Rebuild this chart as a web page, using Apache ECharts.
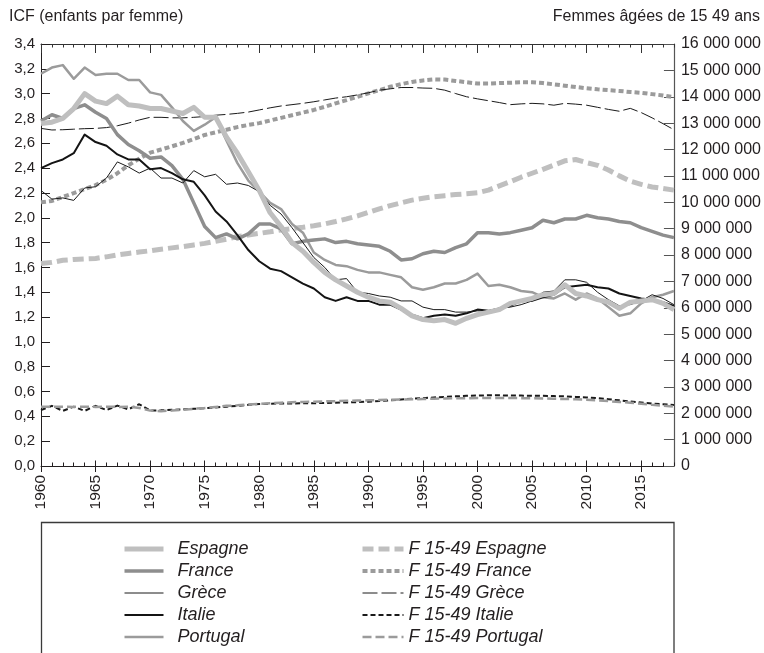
<!DOCTYPE html>
<html>
<head>
<meta charset="utf-8">
<script src="https://cdn.jsdelivr.net/npm/echarts@6/dist/echarts.min.js"></script>
<style>
  html, body { margin: 0; padding: 0; background: #fff; }
  #chart { width: 764px; height: 653px; }
</style>
</head>
<body>
<div id="chart"></div>
<script>
// Années 1960-2018
const years = [1960,1961,1962,1963,1964,1965,1966,1967,1968,1969,
  1970,1971,1972,1973,1974,1975,1976,1977,1978,1979,
  1980,1981,1982,1983,1984,1985,1986,1987,1988,1989,
  1990,1991,1992,1993,1994,1995,1996,1997,1998,1999,
  2000,2001,2002,2003,2004,2005,2006,2007,2008,2009,
  2010,2011,2012,2013,2014,2015,2016,2017,2018];

const yearTicks = [1960,1965,1970,1975,1980,1985,1990,1995,2000,2005,2010,2015];

// Indice conjoncturel de fécondité (enfants par femme)
const icfEspagne = [2.76,2.77,2.80,2.88,3.00,2.94,2.92,2.98,2.91,2.90,
  2.88,2.88,2.86,2.84,2.89,2.81,2.81,2.65,2.52,2.37,
  2.22,2.04,1.93,1.80,1.73,1.64,1.56,1.50,1.45,1.40,
  1.36,1.33,1.32,1.27,1.21,1.18,1.17,1.18,1.15,1.19,
  1.22,1.24,1.26,1.31,1.33,1.35,1.38,1.39,1.46,1.39,
  1.37,1.34,1.32,1.27,1.32,1.33,1.34,1.31,1.26];
const icfFrance = [2.78,2.83,2.80,2.88,2.91,2.85,2.80,2.67,2.59,2.54,
  2.48,2.49,2.42,2.31,2.12,1.93,1.84,1.87,1.83,1.87,
  1.95,1.95,1.91,1.79,1.81,1.82,1.83,1.80,1.81,1.79,
  1.78,1.77,1.73,1.66,1.67,1.71,1.73,1.72,1.76,1.79,
  1.88,1.88,1.87,1.88,1.90,1.92,1.98,1.96,1.99,1.99,
  2.02,2.00,1.99,1.97,1.96,1.92,1.89,1.86,1.84];
const icfGrece = [2.22,2.15,2.16,2.14,2.24,2.25,2.32,2.45,2.41,2.36,
  2.40,2.32,2.32,2.28,2.38,2.33,2.35,2.27,2.28,2.26,
  2.21,2.10,2.03,1.92,1.80,1.68,1.60,1.50,1.51,1.40,
  1.39,1.37,1.36,1.33,1.33,1.28,1.26,1.26,1.24,1.24,
  1.25,1.25,1.27,1.28,1.30,1.33,1.40,1.41,1.50,1.50,
  1.48,1.40,1.34,1.29,1.30,1.33,1.38,1.35,1.30];
const icfItalie = [2.40,2.44,2.47,2.52,2.67,2.61,2.58,2.51,2.47,2.47,
  2.39,2.40,2.36,2.31,2.29,2.18,2.05,1.97,1.86,1.74,
  1.65,1.59,1.57,1.52,1.47,1.43,1.36,1.33,1.36,1.33,
  1.33,1.30,1.30,1.26,1.22,1.19,1.21,1.22,1.21,1.23,
  1.26,1.25,1.27,1.29,1.33,1.33,1.36,1.38,1.44,1.45,
  1.46,1.44,1.43,1.39,1.37,1.35,1.34,1.32,1.29];
const icfPortugal = [3.16,3.21,3.23,3.12,3.21,3.15,3.16,3.16,3.11,3.11,
  3.01,2.99,2.89,2.78,2.70,2.75,2.81,2.62,2.44,2.30,
  2.21,2.12,2.07,1.95,1.88,1.72,1.66,1.62,1.61,1.58,
  1.56,1.56,1.54,1.52,1.44,1.42,1.44,1.47,1.47,1.50,
  1.55,1.45,1.46,1.44,1.41,1.40,1.36,1.35,1.39,1.34,
  1.39,1.35,1.28,1.21,1.23,1.31,1.36,1.38,1.41];

// Femmes âgées de 15 à 49 ans (millions)
const femEspagne = [7.68,7.72,7.80,7.83,7.85,7.87,7.93,8.00,8.06,8.11,
  8.16,8.22,8.27,8.32,8.38,8.44,8.52,8.60,8.70,8.76,
  8.82,8.88,8.95,9.00,9.05,9.11,9.18,9.27,9.37,9.48,
  9.62,9.75,9.87,9.98,10.08,10.15,10.21,10.25,10.29,10.32,
  10.36,10.46,10.62,10.78,10.95,11.10,11.25,11.41,11.57,11.62,
  11.50,11.40,11.22,11.00,10.80,10.68,10.58,10.52,10.46];
const femFrance = [10.00,10.05,10.20,10.35,10.50,10.65,10.85,11.10,11.40,11.65,
  11.88,12.00,12.12,12.25,12.40,12.55,12.65,12.75,12.85,12.93,
  13.00,13.10,13.20,13.30,13.40,13.50,13.62,13.75,13.87,14.00,
  14.13,14.25,14.38,14.48,14.56,14.62,14.66,14.65,14.60,14.55,
  14.50,14.50,14.52,14.53,14.55,14.55,14.52,14.47,14.42,14.37,
  14.32,14.28,14.25,14.22,14.18,14.15,14.10,14.05,13.98];
const femGrece = [12.80,12.74,12.75,12.77,12.79,12.80,12.83,12.90,13.00,13.12,
  13.22,13.22,13.20,13.20,13.22,13.25,13.30,13.33,13.37,13.42,
  13.50,13.58,13.65,13.70,13.75,13.81,13.88,13.95,14.00,14.07,
  14.15,14.25,14.30,14.35,14.35,14.33,14.32,14.25,14.12,14.00,
  13.92,13.85,13.78,13.70,13.73,13.75,13.73,13.68,13.75,13.72,
  13.68,13.60,13.52,13.45,13.56,13.40,13.20,12.98,12.75];
const femItalie = [2.12,2.28,2.09,2.25,2.09,2.28,2.12,2.29,2.15,2.34,
  2.10,2.11,2.13,2.15,2.17,2.19,2.22,2.25,2.28,2.32,
  2.35,2.36,2.37,2.37,2.38,2.38,2.39,2.40,2.41,2.42,
  2.44,2.46,2.49,2.52,2.55,2.57,2.60,2.62,2.64,2.66,
  2.67,2.68,2.68,2.67,2.67,2.66,2.66,2.65,2.64,2.62,
  2.60,2.57,2.53,2.49,2.45,2.41,2.37,2.34,2.31];
const femPortugal = [2.25,2.25,2.25,2.24,2.25,2.24,2.25,2.24,2.25,2.20,
  2.10,2.08,2.10,2.13,2.17,2.20,2.24,2.28,2.30,2.33,
  2.35,2.38,2.40,2.42,2.43,2.44,2.45,2.46,2.47,2.48,
  2.49,2.50,2.51,2.52,2.53,2.54,2.55,2.56,2.57,2.57,
  2.58,2.58,2.58,2.58,2.57,2.57,2.56,2.55,2.54,2.53,
  2.51,2.49,2.46,2.43,2.40,2.36,2.32,2.29,2.25];

const FONT = 'Liberation Sans, Arial, Helvetica, sans-serif';
const INK = '#231f20';

const pairs = arr => years.map((y, i) => [y, arr[i]]);
const millions = arr => years.map((y, i) => [y, Math.round(arr[i] * 1e6)]);

function lineSeries(name, data, yAxisIndex, color, width, type) {
  return {
    name, type: 'line', data, xAxisIndex: 0, yAxisIndex,
    symbol: 'none', showSymbol: false, silent: true, animation: false,
    lineStyle: { color, width, type: type || 'solid', cap: 'butt', join: 'round' },
    itemStyle: { color }
  };
}

const LIGHT = '#bfbfbf';
const MID = '#8e8e8e';
const MID2 = '#9b9b9b';

const series = [
  lineSeries('F 15-49 Espagne', millions(femEspagne), 1, LIGHT, 5, [11, 5]),
  lineSeries('F 15-49 France', millions(femFrance), 1, MID2, 4, [5, 3]),
  lineSeries('F 15-49 Grèce', millions(femGrece), 1, '#1a1a1a', 1, [15, 4]),
  lineSeries('F 15-49 Italie', millions(femItalie), 1, '#1a1a1a', 2, [5, 3]),
  lineSeries('F 15-49 Portugal', millions(femPortugal), 1, MID2, 2.5, [9, 4]),
  lineSeries('Portugal', pairs(icfPortugal), 0, MID2, 2.5),
  lineSeries('France', pairs(icfFrance), 0, MID, 3.5),
  lineSeries('Italie', pairs(icfItalie), 0, '#141414', 2),
  lineSeries('Grèce', pairs(icfGrece), 0, '#1a1a1a', 1),
  lineSeries('Espagne', pairs(icfEspagne), 0, LIGHT, 5)
];

const baseX = {
  type: 'value', min: 1960, max: 2018, gridIndex: 0,
  splitLine: { show: false }, axisLabel: { show: false },
  axisLine: { show: false }, axisTick: { show: false }
};

const legendText = {
  fontFamily: FONT, fontSize: 18, fontStyle: 'italic', color: INK, lineHeight: 18
};

const chart = echarts.init(document.getElementById('chart'), null, { renderer: 'canvas' });
chart.setOption({
  animation: false,
  backgroundColor: '#fff',
  textStyle: { fontFamily: FONT },
  title: [
    { text: 'ICF (enfants par femme)', left: 9, top: 9, padding: 0,
      textStyle: { fontFamily: FONT, fontSize: 16, fontWeight: 'normal', color: INK } },
    { text: 'Femmes âgées de 15 49 ans', right: 4, top: 9, padding: 0,
      textStyle: { fontFamily: FONT, fontSize: 16, fontWeight: 'normal', color: INK } }
  ],
  grid: { left: 41, right: 90, top: 44, bottom: 187, containLabel: false },
  xAxis: [
    // axe principal : ligne, graduations annuelles, libellés
    Object.assign({}, baseX, {
      position: 'bottom', interval: 1,
      axisLine: { show: true, lineStyle: { color: INK, width: 1 } },
      axisTick: { show: true, inside: true, length: 3.5, lineStyle: { color: INK } },
      axisLabel: {
        show: true, rotate: 90, margin: 9, fontSize: 15.5, color: INK, fontFamily: FONT,
        customValues: yearTicks, formatter: v => String(v)
      }
    }),
    // graduations quinquennales vers l'extérieur
    Object.assign({}, baseX, {
      position: 'bottom',
      axisTick: { show: true, inside: false, length: 6, customValues: yearTicks, lineStyle: { color: INK } }
    }),
    // graduations quinquennales vers l'intérieur
    Object.assign({}, baseX, {
      position: 'bottom',
      axisTick: { show: true, inside: true, length: 5.5, customValues: yearTicks, lineStyle: { color: INK } }
    }),
    // bord supérieur avec graduations annuelles
    Object.assign({}, baseX, {
      position: 'top', interval: 1,
      axisLine: { show: true, lineStyle: { color: '#333', width: 1 } },
      axisTick: { show: true, inside: true, length: 3.5, lineStyle: { color: '#333' } }
    }),
    // graduations quinquennales du bord supérieur
    Object.assign({}, baseX, {
      position: 'top',
      axisTick: { show: true, inside: true, length: 9, customValues: yearTicks, lineStyle: { color: '#333' } }
    })
  ],
  yAxis: [
    {
      type: 'value', min: 0, max: 3.4, interval: 0.2, position: 'left',
      splitLine: { show: false },
      axisLine: { show: true, lineStyle: { color: INK, width: 1 } },
      axisTick: { show: true, inside: true, length: 9, lineStyle: { color: INK } },
      axisLabel: {
        margin: 6, fontSize: 15, color: INK, fontFamily: FONT,
        formatter: v => v.toFixed(1).replace('.', ',')
      }
    },
    {
      type: 'value', min: 0, max: 16000000, interval: 1000000, position: 'right',
      splitLine: { show: false },
      axisLine: { show: true, lineStyle: { color: '#555', width: 1.2 } },
      axisTick: { show: true, inside: true, length: 10, lineStyle: { color: '#555' } },
      axisLabel: {
        margin: 7, fontSize: 16, color: INK, fontFamily: FONT,
        formatter: v => String(v).replace(/\B(?=(\d{3})+(?!\d))/g, ' ')
      }
    }
  ],
  legend: [
    {
      data: ['Espagne', 'France', 'Grèce', 'Italie', 'Portugal'],
      orient: 'vertical', left: 122, top: 540, padding: 0,
      itemWidth: 39, itemHeight: 14, itemGap: 4, selectedMode: false,
      lineStyle: { width: 'inherit' },
      itemStyle: { opacity: 0 },
      textStyle: Object.assign({ padding: [0, 0, 0, 9] }, legendText)
    },
    {
      data: ['F 15-49 Espagne', 'F 15-49 France', 'F 15-49 Grèce', 'F 15-49 Italie', 'F 15-49 Portugal'],
      orient: 'vertical', left: 360, top: 540, padding: 0,
      itemWidth: 41, itemHeight: 14, itemGap: 4, selectedMode: false,
      lineStyle: { width: 'inherit' },
      itemStyle: { opacity: 0 },
      textStyle: Object.assign({}, legendText)
    }
  ],
  graphic: [
    { type: 'rect', silent: true, z: -1,
      shape: { x: 41.5, y: 522.5, width: 632.5, height: 200 },
      style: { fill: 'none', stroke: '#3a3a3a', lineWidth: 1.3 } }
  ],
  series
});
</script>
</body>
</html>
